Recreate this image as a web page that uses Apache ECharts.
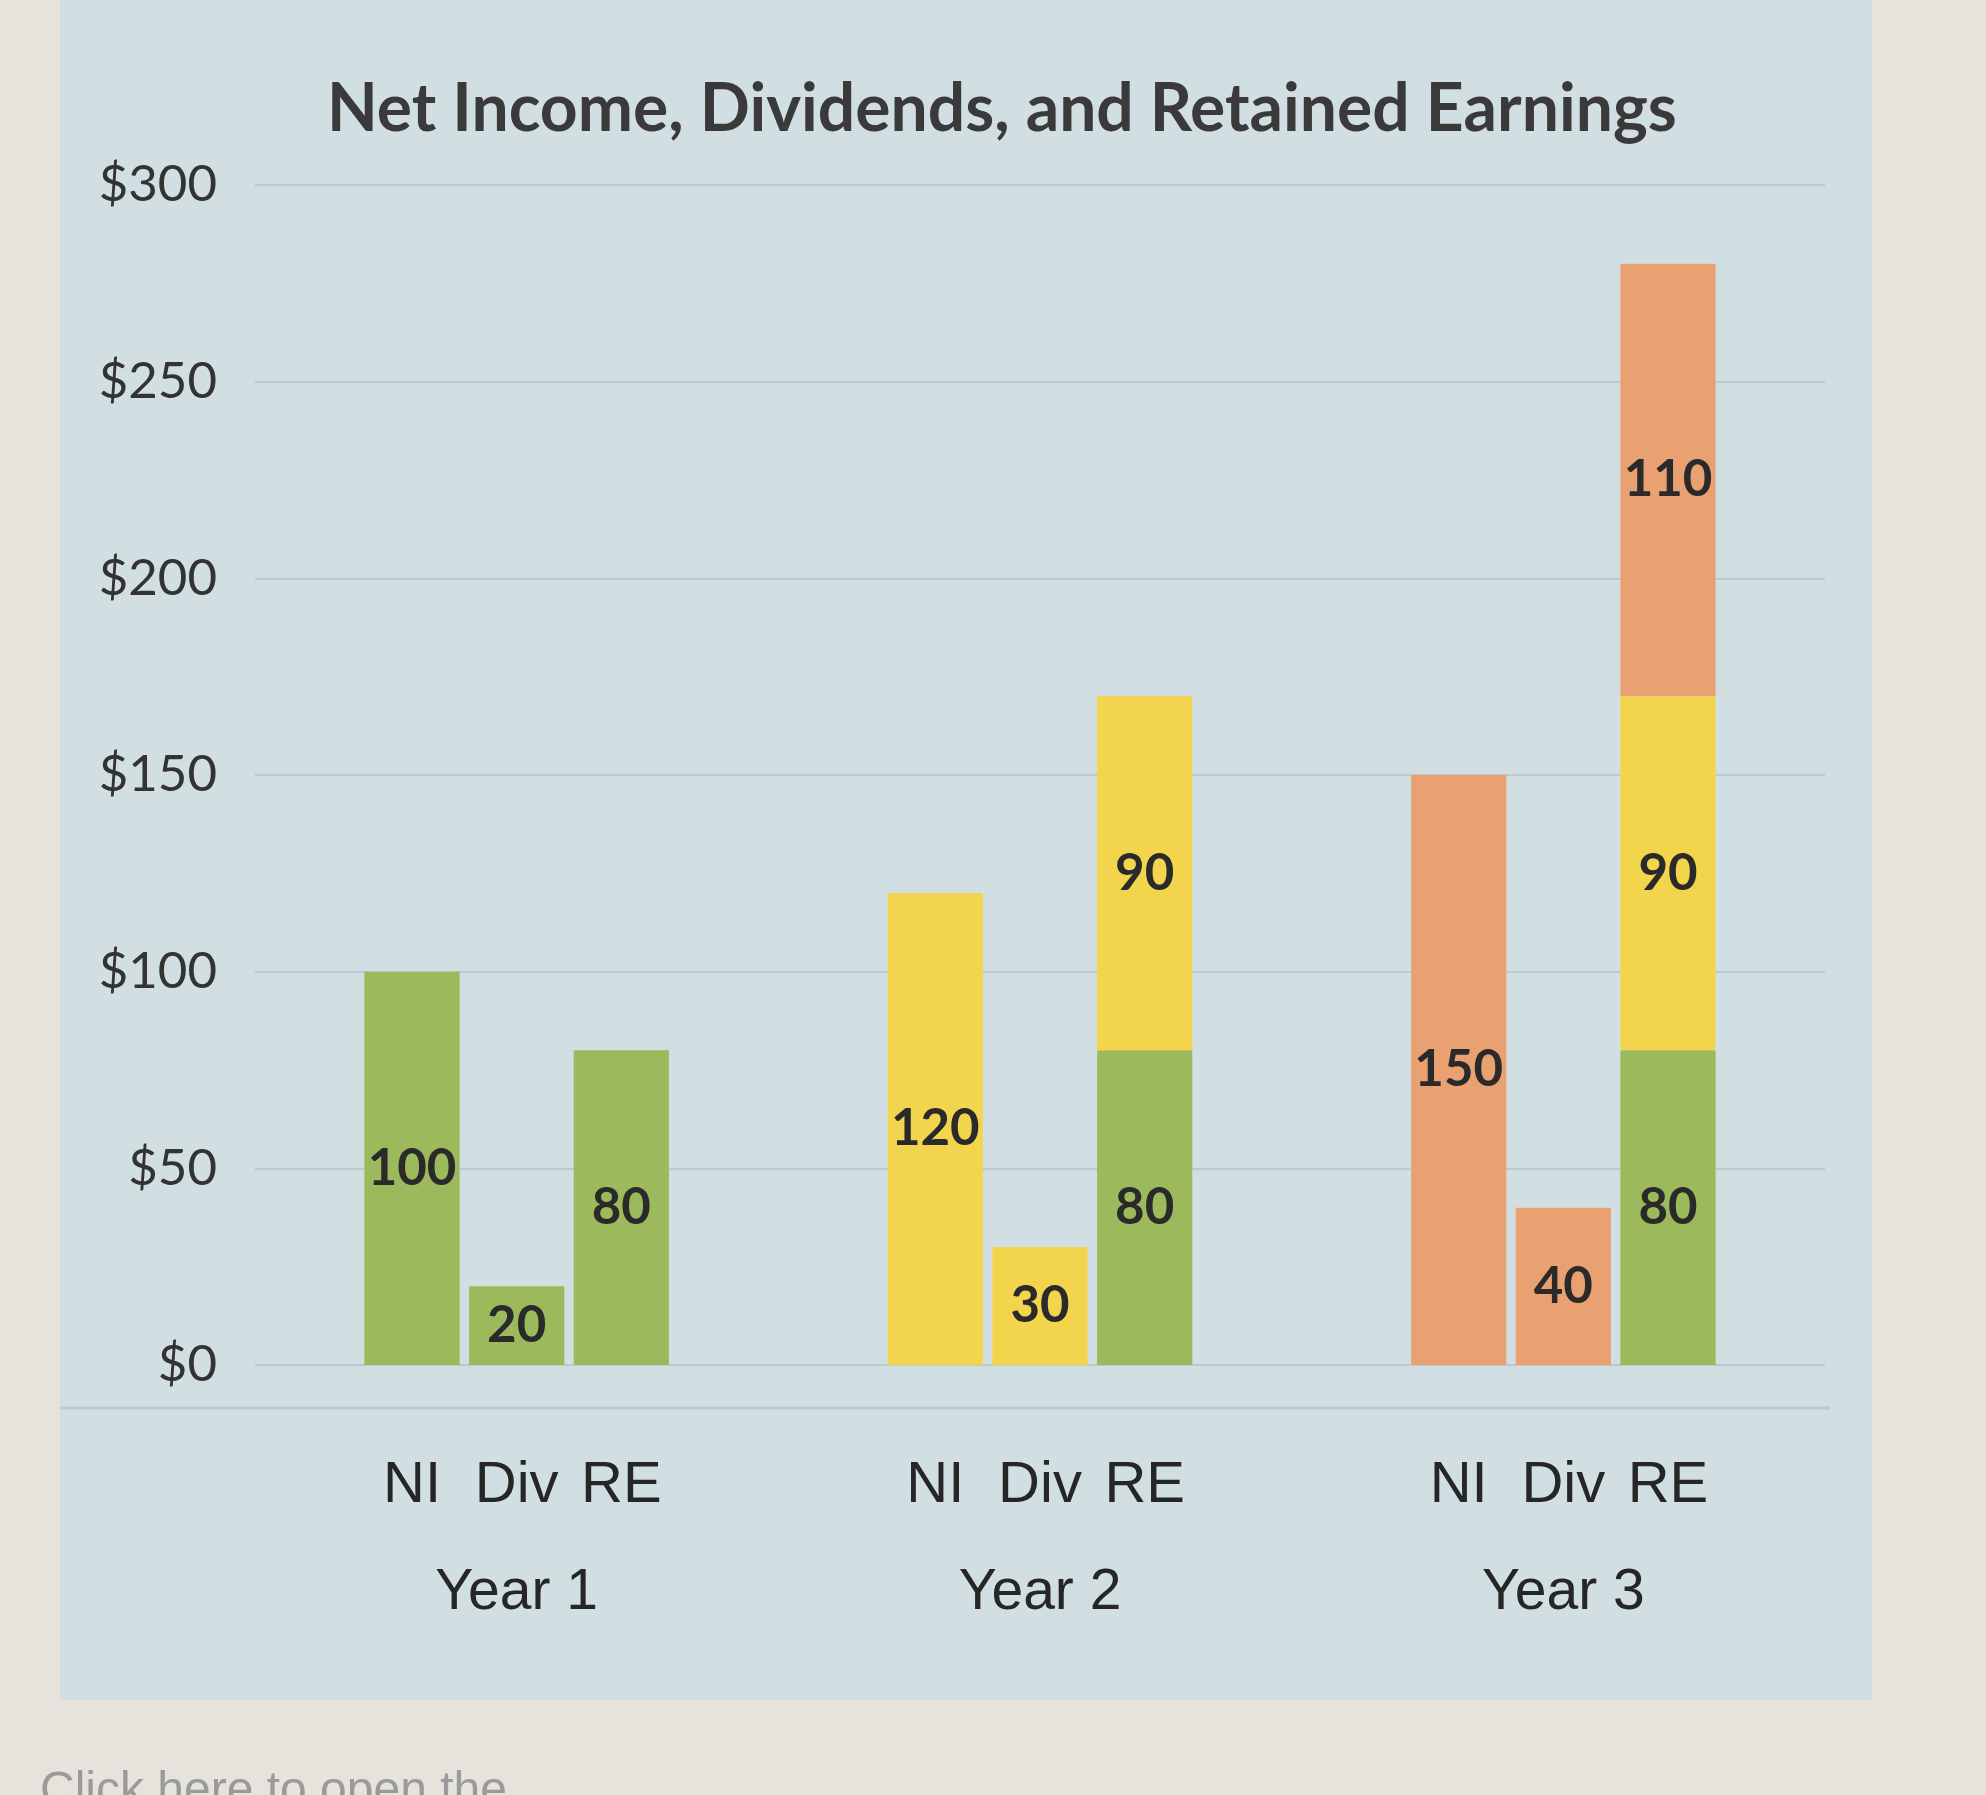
<!DOCTYPE html>
<html>
<head>
<meta charset="utf-8">
<script src="https://cdn.jsdelivr.net/npm/echarts@6/dist/echarts.min.js"></script>
<style>
  html, body { margin: 0; padding: 0; background: #e6e3dc; }
  #chart { width: 1986px; height: 1795px; }
</style>
</head>
<body>
<div id="chart"></div>
<script>
// ---- data ----
const metrics = ['NI', 'Div', 'RE'];
const years = ['Year 1', 'Year 2', 'Year 3'];
// per-year values: Net income, Dividends, retained earnings added that year
const year1Values = [100, 20, 80];
const year2Values = [120, 30, 90];
const year3Values = [150, 40, 110];
const yearColors = ['#9cba5b', '#f3d54d', '#e9a171'];
const yTicks = [0, 50, 100, 150, 200, 250, 300];

// ---- build category slots: blank, 3 bars, 2 blanks, 3 bars, 2 blanks, 3 bars, blank ----
const allYears = [year1Values, year2Values, year3Values];
const slotCount = 1 + years.length * 3 + (years.length - 1) * 2 + 1;
const slotOf = (g, m) => 1 + g * 5 + m;
const categories = new Array(slotCount).fill('');
const yearLabels = new Array(slotCount).fill('');
years.forEach((y, g) => {
  metrics.forEach((m, i) => { categories[slotOf(g, i)] = m; });
  yearLabels[slotOf(g, 1)] = y;
});

// one stacked series per year colour
const series = allYears.map((vals, k) => {
  const data = new Array(slotCount).fill('-');
  // NI and Div of year k, RE added in year k
  metrics.forEach((m, i) => { data[slotOf(k, i)] = vals[i]; });
  // RE portion carried into later years' cumulative RE bar
  for (let g = k + 1; g < years.length; g++) data[slotOf(g, 2)] = vals[2];
  return {
    type: 'bar',
    name: years[k],
    stack: 'total',
    data: data,
    barCategoryGap: '9%',
    itemStyle: { color: yearColors[k] },
    label: {
      show: true,
      position: 'inside',
      fontFamily: 'Lato',
      fontWeight: 'bold',
      fontSize: 51,
      color: '#2a2a2a'
    }
  };
});

const chart = echarts.init(document.getElementById('chart'), null, { renderer: 'canvas' });
chart.setOption({
  backgroundColor: '#e6e3dc',
  animation: false,
  title: {
    text: 'Net Income, Dividends, and Retained Earnings',
    left: 322,
    top: 72,
    textStyle: { fontFamily: 'Lato', fontWeight: 'bold', fontSize: 66, color: '#3a3a3a' }
  },
  graphic: [
    { type: 'rect', z: -100, shape: { x: 60, y: 0, width: 1812, height: 1700 }, style: { fill: '#d2dfe2' } },
    { type: 'line', z: -90, shape: { x1: 60, y1: 1408, x2: 1830, y2: 1408 }, style: { stroke: '#bccacf', lineWidth: 3 } },
    { type: 'text', left: 40, top: 1768, style: { text: 'Click here to open the', font: '48px "Liberation Sans"', fill: '#9a9a9a' } }
  ],
  grid: { left: 255, right: 161, top: 185, bottom: 430, containLabel: false },
  xAxis: [
    {
      type: 'category',
      data: categories,
      axisLine: { show: false },
      axisTick: { show: false },
      axisLabel: { interval: 0, margin: 92, fontFamily: 'Liberation Sans', fontSize: 58, color: '#262626' }
    },
    {
      type: 'category',
      position: 'bottom',
      data: yearLabels,
      axisLine: { show: false },
      axisTick: { show: false },
      axisLabel: { interval: 0, margin: 200, fontFamily: 'Liberation Sans', fontSize: 57, color: '#262626' }
    }
  ],
  yAxis: {
    type: 'value',
    min: yTicks[0],
    max: yTicks[yTicks.length - 1],
    interval: 50,
    axisLine: { show: false },
    axisTick: { show: false },
    axisLabel: { margin: 38, fontFamily: 'Lato', fontSize: 51, color: '#333333', formatter: v => '$' + v },
    splitLine: { lineStyle: { color: '#bccacf', width: 2 } }
  },
  series: series
});
</script>
</body>
</html>
